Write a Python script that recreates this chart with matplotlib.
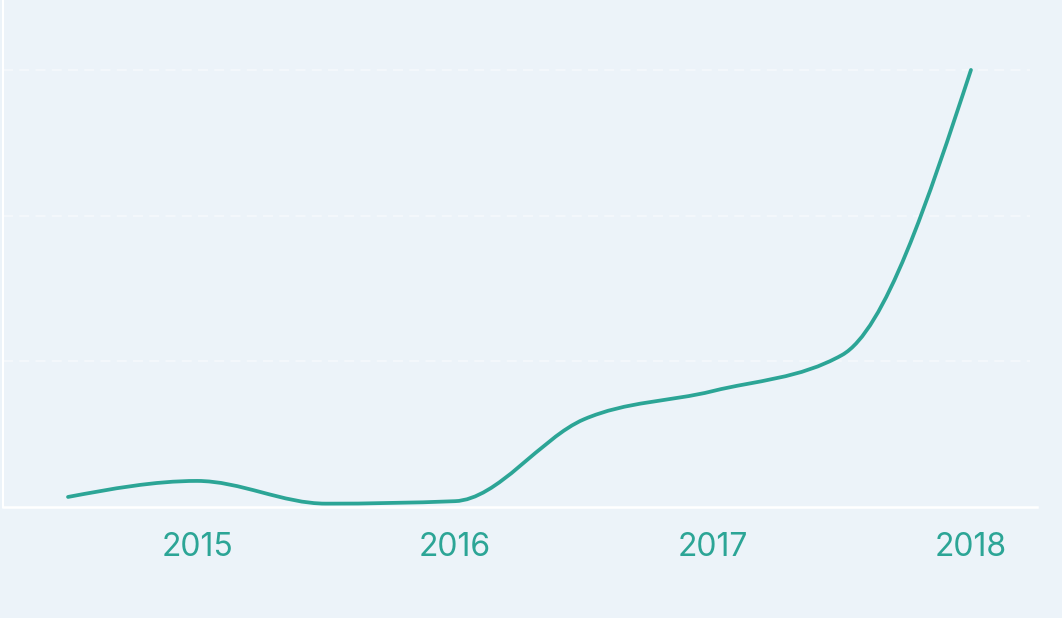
import numpy as np
import matplotlib
matplotlib.use("Agg")
import matplotlib.pyplot as plt
from matplotlib.path import Path
from matplotlib.patches import PathPatch

# half-yearly values, in units where each grid line is 100
years = [2014.5, 2015.0, 2015.5, 2016.0, 2016.5, 2017.0, 2017.5, 2018.0]
values = [6.9, 17.9, 2.3, 4.0, 60.2, 79.6, 104.3, 300.0]
tick_years = [2015, 2016, 2017, 2018]
tick_labels = ["2015", "2016", "2017", "2018"]
grid_values = [100, 200, 300]

teal = "#2ca596"
bg = "#ecf3f9"


def monotone_path(x, y):
    # same smoothing as d3.curveMonotoneX
    x = np.asarray(x, float)
    y = np.asarray(y, float)
    h = np.diff(x)
    s = np.diff(y) / h
    t = np.zeros(len(x))
    for i in range(1, len(x) - 1):
        p = (s[i - 1] * h[i] + s[i] * h[i - 1]) / (h[i - 1] + h[i])
        t[i] = (np.sign(s[i - 1]) + np.sign(s[i])) * min(abs(s[i - 1]), abs(s[i]), 0.5 * abs(p))
    t[0] = (3 * s[0] - t[1]) / 2
    t[-1] = (3 * s[-1] - t[-2]) / 2
    verts = [(x[0], y[0])]
    codes = [Path.MOVETO]
    for i in range(len(x) - 1):
        dx = h[i] / 3
        verts += [(x[i] + dx, y[i] + dx * t[i]),
                  (x[i + 1] - dx, y[i + 1] - dx * t[i + 1]),
                  (x[i + 1], y[i + 1])]
        codes += [Path.CURVE4] * 3
    return Path(verts, codes)


fig = plt.figure(figsize=(10.62, 6.18), dpi=100, facecolor=bg)
ax = fig.add_axes([3 / 1062, 1 - 507 / 618, 1034 / 1062, 507 / 618])
ax.set_facecolor(bg)

ax.add_patch(PathPatch(monotone_path(years, values), facecolor="none",
                       edgecolor=teal, lw=2.7, capstyle="round", zorder=3))

for g in grid_values:
    ax.axhline(g, xmin=0, xmax=1027 / 1034, color="white", lw=1.3,
               linestyle=(0, (5.5, 3.5)), alpha=0.45, zorder=1)

ax.set_xlim(2014.248, 2018.256)
ax.set_ylim(0, 348)

for side in ["top", "right"]:
    ax.spines[side].set_visible(False)
ax.spines["left"].set_color("white")
ax.spines["left"].set_linewidth(1.5)
ax.spines["bottom"].set_color("white")
ax.spines["bottom"].set_linewidth(1.8)

ax.set_yticks([])
ax.set_xticks(tick_years)
ax.set_xticklabels(tick_labels, fontsize=23, color=teal, family="Inter")
ax.tick_params(axis="x", length=0, pad=18)

fig.savefig("out.png", dpi=100, facecolor=bg)
